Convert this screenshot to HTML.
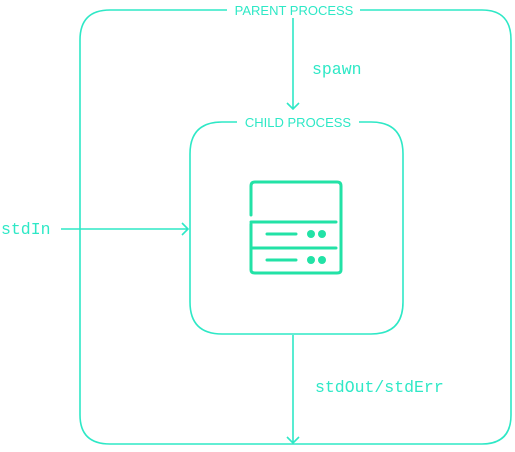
<!DOCTYPE html>
<html><head><style>body{margin:0;background:#fff;width:515px;height:447px;overflow:hidden}</style></head><body>
<svg width="515" height="447" xmlns="http://www.w3.org/2000/svg">
<g fill="none" stroke="#2ee8c6" stroke-width="1.6">
<path d="M227 10 H110 Q80 10 80 40 V415 Q80 444 110 444 H482 Q511 444 511 415 V40 Q511 10 482 10 H360"/>
<path d="M237 122 H222 Q190 122 190 154 V302 Q190 334 222 334 H371 Q403 334 403 302 V154 Q403 122 371 122 H359"/>
<path d="M293 18 V109 M287 103 L293 109 L299 103"/>
<path d="M61 229 H188 M182 223 L188 229 L182 235"/>
<path d="M293 335 V443 M287 437 L293 443 L299 437"/>
</g>
<g fill="none" stroke="#22e2a6" stroke-width="3" stroke-linecap="round">
<path d="M251 215 V186 Q251 182 255 182 H337 Q341 182 341 186 V270 Q341 273 337 273 H255 Q251 273 251 270 V224"/>
<path d="M251 222 H336 M251 248 H336 M267 234 H296 M267 260 H296"/>
</g>
<g fill="#22e2a6"><circle cx="311" cy="234" r="4"/><circle cx="322" cy="234" r="4"/><circle cx="311" cy="260" r="4"/><circle cx="322" cy="260" r="4"/></g>
<g font-family="Liberation Sans, sans-serif" font-size="13" fill="#2ee8c6" text-anchor="middle">
<text x="294" y="15">PARENT PROCESS</text>
<text x="298" y="127">CHILD PROCESS</text>
</g>
<g font-family="Liberation Mono, monospace" font-size="16.5" fill="#2ee8c6">
<text x="312" y="74">spawn</text>
<text x="1" y="234">stdIn</text>
<text x="315" y="392">stdOut/stdErr</text>
</g>
</svg>
</body></html>
